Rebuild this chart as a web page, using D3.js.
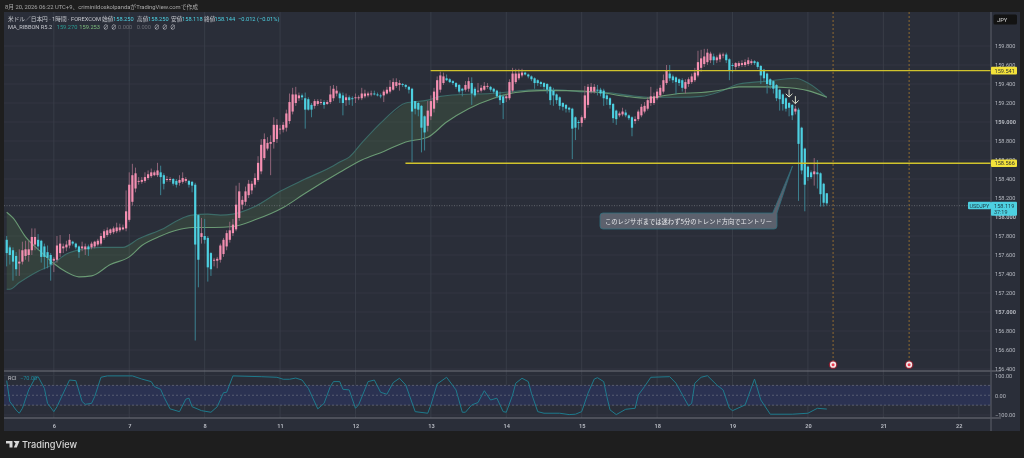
<!DOCTYPE HTML>
<html>
<head>
<meta charset="UTF-8">
<title>USDJPY 1h</title>
<script src="https://d3js.org/d3.v7.min.js"></script>
<style>
html,body{margin:0;padding:0;background:#1e1e1e;overflow:hidden}
svg{display:block;font-family:"Roboto","Noto Sans CJK JP",sans-serif;filter:blur(.3px)}
</style>
</head>
<body>
<svg id="svg" width="1024" height="458"></svg>
<script>
// hourly candles
var opens = [157.76,157.68,157.65,157.59,157.51,157.53,157.59,157.60,157.65,157.71,157.76,157.75,157.69,157.63,157.60,157.54,157.55,157.62,157.67,157.68,157.70,157.74,157.72,157.69,157.67,157.66,157.69,157.68,157.69,157.71,157.72,157.78,157.81,157.83,157.84,157.85,157.86,157.87,157.88,157.97,158.16,158.30,158.37,158.37,158.38,158.41,158.43,158.44,158.44,158.47,158.44,158.39,158.39,158.40,158.38,158.36,158.37,158.38,158.38,158.37,158.34,158.02,157.79,157.80,157.78,157.62,157.54,157.54,157.55,157.61,157.69,157.76,157.83,157.87,157.99,158.13,158.16,158.23,158.28,158.34,158.39,158.48,158.62,158.72,158.77,158.79,158.82,158.92,158.92,158.94,159.01,159.11,159.20,159.25,159.28,159.25,159.24,159.18,159.17,159.19,159.20,159.21,159.19,159.21,159.25,159.30,159.30,159.28,159.23,159.26,159.25,159.25,159.25,159.25,159.27,159.28,159.29,159.30,159.29,159.28,159.28,159.30,159.32,159.34,159.38,159.39,159.40,159.39,159.37,159.35,159.22,159.20,159.17,159.06,158.96,159.06,159.14,159.23,159.34,159.41,159.46,159.45,159.43,159.41,159.39,159.35,159.34,159.35,159.41,159.35,159.32,159.33,159.34,159.37,159.37,159.35,159.33,159.28,159.27,159.25,159.25,159.33,159.42,159.46,159.49,159.52,159.50,159.48,159.46,159.44,159.42,159.41,159.40,159.37,159.33,159.29,159.26,159.20,159.18,159.15,159.14,159.05,159.00,158.99,159.04,159.18,159.32,159.32,159.34,159.34,159.33,159.28,159.25,159.19,159.12,159.07,159.08,159.10,159.07,159.05,159.01,159.03,159.07,159.11,159.14,159.20,159.20,159.25,159.28,159.32,159.41,159.51,159.48,159.47,159.45,159.44,159.35,159.40,159.42,159.44,159.49,159.57,159.61,159.63,159.65,159.69,159.65,159.66,159.70,159.71,159.66,159.60,159.58,159.59,159.60,159.60,159.61,159.62,159.64,159.63,159.59,159.55,159.51,159.45,159.43,159.39,159.34,159.29,159.25,159.20,159.18,159.11,159.13,158.94,158.72,158.53,158.47,158.45,158.47,158.46,158.35,158.25];
var closes = [157.62,157.60,157.53,157.45,157.53,157.65,157.66,157.66,157.79,157.79,157.69,157.58,157.58,157.57,157.50,157.56,157.70,157.72,157.69,157.71,157.76,157.72,157.68,157.63,157.69,157.69,157.66,157.72,157.74,157.75,157.80,157.85,157.86,157.87,157.88,157.89,157.89,157.89,158.06,158.34,158.44,158.46,158.38,158.39,158.42,158.45,158.47,158.47,158.49,158.42,158.35,158.40,158.40,158.35,158.34,158.39,158.41,158.40,158.34,158.33,157.71,157.55,157.83,157.76,157.47,157.45,157.55,157.56,157.70,157.76,157.83,157.86,157.92,158.13,158.27,158.18,158.27,158.35,158.35,158.41,158.57,158.76,158.82,158.78,158.79,158.97,158.97,158.93,158.97,159.09,159.21,159.29,159.29,159.28,159.26,159.13,159.13,159.13,159.22,159.22,159.21,159.18,159.21,159.29,159.35,159.33,159.25,159.20,159.26,159.23,159.24,159.26,159.26,159.30,159.30,159.30,159.30,159.29,159.28,159.27,159.32,159.34,159.37,159.42,159.42,159.41,159.39,159.37,159.34,159.11,159.14,159.13,158.94,158.89,159.12,159.22,159.32,159.44,159.49,159.48,159.44,159.42,159.41,159.37,159.32,159.33,159.39,159.43,159.30,159.28,159.33,159.36,159.38,159.38,159.34,159.32,159.27,159.23,159.20,159.27,159.42,159.51,159.51,159.51,159.52,159.50,159.48,159.45,159.41,159.41,159.40,159.37,159.34,159.23,159.28,159.23,159.17,159.16,159.14,159.13,158.93,158.94,158.99,159.05,159.28,159.37,159.37,159.37,159.33,159.30,159.25,159.24,159.18,159.04,159.03,159.09,159.11,159.07,159.04,158.94,159.03,159.11,159.16,159.17,159.23,159.27,159.27,159.32,159.36,159.44,159.54,159.46,159.44,159.42,159.41,159.36,159.42,159.45,159.48,159.52,159.63,159.67,159.69,159.73,159.72,159.65,159.68,159.71,159.71,159.65,159.54,159.59,159.62,159.62,159.62,159.63,159.65,159.64,159.62,159.58,159.49,159.46,159.40,159.39,159.35,159.25,159.24,159.19,159.14,159.15,159.07,159.14,158.77,158.49,158.34,158.42,158.42,158.48,158.45,158.24,158.15,158.144];
var highs = [157.80,157.70,157.68,157.63,157.66,157.74,157.75,157.75,157.88,157.88,157.82,157.76,157.72,157.70,157.62,157.58,157.80,157.81,157.72,157.75,157.82,157.75,157.73,157.70,157.74,157.72,157.71,157.74,157.75,157.77,157.83,157.87,157.89,157.88,157.90,157.94,157.93,157.92,158.28,158.47,158.56,158.52,158.42,158.42,158.47,158.49,158.51,158.49,158.57,158.54,158.46,158.43,158.42,158.41,158.40,158.44,158.47,158.42,158.39,158.38,158.36,158.03,157.99,157.98,157.80,157.63,157.57,157.58,157.72,157.78,157.86,157.95,157.98,158.33,158.36,158.22,158.32,158.39,158.38,158.46,158.64,158.82,158.88,158.84,158.86,159.05,159.03,158.97,159.00,159.13,159.30,159.36,159.37,159.31,159.30,159.31,159.26,159.20,159.24,159.24,159.24,159.23,159.23,159.38,159.39,159.38,159.32,159.31,159.30,159.28,159.27,159.30,159.28,159.36,159.34,159.32,159.33,159.33,159.31,159.30,159.34,159.37,159.44,159.46,159.46,159.44,159.41,159.40,159.38,159.36,159.22,159.21,159.18,159.07,159.22,159.28,159.36,159.48,159.53,159.52,159.50,159.46,159.44,159.42,159.40,159.36,159.43,159.47,159.47,159.37,159.41,159.39,159.42,159.41,159.38,159.36,159.34,159.32,159.29,159.29,159.45,159.57,159.56,159.56,159.56,159.53,159.51,159.49,159.47,159.45,159.43,159.42,159.41,159.38,159.36,159.30,159.27,159.21,159.19,159.16,159.15,159.06,159.02,159.07,159.38,159.40,159.41,159.40,159.39,159.36,159.35,159.30,159.26,159.20,159.13,159.11,159.15,159.13,159.08,159.06,159.06,159.13,159.19,159.21,159.26,159.37,159.31,159.35,159.39,159.50,159.60,159.60,159.50,159.48,159.46,159.46,159.45,159.47,159.51,159.57,159.75,159.76,159.77,159.77,159.74,159.72,159.70,159.73,159.73,159.73,159.67,159.62,159.63,159.64,159.65,159.66,159.68,159.66,159.65,159.64,159.60,159.56,159.52,159.46,159.44,159.40,159.35,159.30,159.26,159.21,159.19,159.17,159.15,158.95,158.73,158.54,158.49,158.62,158.60,158.47,158.36,158.25];
var lows = [157.48,157.50,157.33,157.38,157.38,157.50,157.55,157.53,157.60,157.65,157.65,157.52,157.45,157.46,157.33,157.42,157.52,157.58,157.62,157.64,157.67,157.70,157.66,157.57,157.64,157.60,157.59,157.66,157.67,157.69,157.70,157.76,157.79,157.81,157.82,157.83,157.84,157.86,157.85,157.95,158.12,158.26,158.34,158.35,158.36,158.39,158.41,158.43,158.42,158.23,158.29,158.37,158.37,158.33,158.31,158.33,158.35,158.36,158.31,158.26,156.70,157.26,157.72,157.72,157.32,157.38,157.48,157.46,157.52,157.58,157.65,157.73,157.80,157.85,157.96,158.08,158.12,158.20,158.24,158.31,158.37,158.45,158.60,158.70,158.44,158.72,158.78,158.87,158.89,158.90,158.98,159.08,159.17,159.22,159.23,158.93,159.12,159.05,159.14,159.17,159.18,159.14,159.18,159.19,159.22,159.27,159.20,159.07,159.17,159.18,159.17,159.20,159.23,159.23,159.25,159.26,159.27,159.28,159.27,159.25,159.21,159.29,159.30,159.33,159.36,159.33,159.37,159.35,159.30,158.58,159.08,159.06,158.68,158.70,158.90,159.02,159.10,159.20,159.31,159.39,159.43,159.41,159.39,159.35,159.30,159.27,159.32,159.32,159.18,159.26,159.30,159.31,159.33,159.35,159.32,159.30,159.25,159.18,159.03,159.21,159.23,159.31,159.40,159.44,159.47,159.49,159.46,159.43,159.35,159.38,159.37,159.34,159.30,159.18,159.17,159.19,159.13,159.12,159.10,159.10,158.61,158.81,158.92,158.95,159.02,159.15,159.30,159.30,159.28,159.27,159.17,159.18,159.14,158.99,158.97,159.05,159.06,159.05,159.02,158.85,158.98,159.01,159.05,159.09,159.12,159.17,159.18,159.23,159.26,159.30,159.39,159.43,159.41,159.29,159.38,159.32,159.30,159.37,159.40,159.42,159.47,159.53,159.58,159.60,159.62,159.60,159.62,159.63,159.67,159.62,159.44,159.52,159.55,159.57,159.58,159.58,159.59,159.60,159.60,159.56,159.40,159.42,159.30,159.35,159.30,159.22,159.12,159.12,159.11,159.06,159.02,159.08,158.17,158.45,158.06,158.38,158.40,158.33,158.30,158.11,158.11,158.118];

// moving average ribbon, read at these bars
var fastBars = [0,1,4,10,14,19,24,30,37,42,50,56,59,64,68,72,79,87,95,104,106,109,113,120,127,134,138,145,154,161,168,175,182,191,198,205,214,221,227,233,242,251,255,261];
var fastValues = [157.24,157.24,157.31,157.43,157.49,157.61,157.66,157.68,157.68,157.77,157.88,157.99,158.02,158.03,158.02,158.03,158.11,158.27,158.40,158.54,158.58,158.63,158.78,159.02,159.20,159.23,159.27,159.29,159.30,159.32,159.34,159.34,159.32,159.31,159.28,159.26,159.26,159.27,159.32,159.40,159.43,159.46,159.41,159.26];
var slowBars = [0,2,6,11,15,19,23,27,33,39,43,49,54,59,66,72,79,88,95,106,113,120,127,134,140,147,155,162,170,178,189,197,204,208,214,221,228,233,242,249,255,261];
var slowValues = [158.05,157.99,157.79,157.63,157.51,157.42,157.37,157.38,157.50,157.58,157.70,157.80,157.86,157.89,157.89,157.90,157.97,158.10,158.25,158.47,158.60,158.69,158.79,158.84,159.00,159.14,159.25,159.31,159.33,159.33,159.31,159.27,159.25,159.27,159.30,159.31,159.34,159.37,159.37,159.36,159.33,159.26];

// RCI sub pane
var rciBars = [0,1,3,4,5,7,9,10,12,13,15,16,19,20,22,24,25,27,28,30,32,40,43,46,47,49,50,52,55,57,58,59,62,65,67,69,70,72,81,86,88,90,92,94,96,99,101,103,104,106,107,109,111,112,115,117,119,121,123,125,127,130,134,135,137,140,143,145,146,148,150,152,154,156,158,159,161,162,164,166,167,169,171,176,179,181,183,185,187,188,190,191,192,194,197,200,201,203,205,211,213,217,218,219,221,223,226,228,230,231,235,238,240,243,250,255,258,261];
var rciValues = [74,-32,-75,-91,-66,27,86,94,35,-41,-83,-58,44,77,74,-32,-46,-41,-7,91,98,98,82,69,44,30,-7,-69,-83,-20,-15,-58,-78,-86,-58,13,15,98,94,91,81,81,87,77,35,-69,-41,44,69,69,30,27,-66,-49,69,77,15,5,64,86,52,-83,-91,-49,57,91,27,-86,-86,-49,-37,23,-24,-15,-83,-86,1,61,86,69,10,-83,-91,-91,-98,-96,-83,10,82,89,69,-7,-74,-98,-71,-66,1,44,91,94,61,-54,-41,61,91,99,52,27,-66,-78,-49,82,-24,-96,-96,-91,-66,-70];

var priceTicks = [159.8,159.6,159.4,159.2,159,158.8,158.6,158.4,158.2,158,157.8,157.6,157.4,157.2,157,156.8,156.6,156.4];
var rciTicks = [100,0,-100];
var dayBars = [15,39,63,87,111,135,159,183,207,231,255,279,303];
var dayLabels = ["6","7","8","11","12","13","14","15","18","19","20","21","22"];

var upColor = "#f48fb1", downColor = "#4dd0e1";
var gridColor = "#3a3e49", borderColor = "#565963", axisText = "#b4b7bf";

var svg = d3.select("svg");

var panelL = 4, panelR = 1020, panelT = 12, panelB = 431, axisX = 991;
var paneBottom = 371, rciBottom = 418;

var x = d3.scaleLinear().domain([0, 261]).range([6.7, 826.8]);
var y = d3.scaleLinear().domain([156.4, 159.8]).range([369, 46]);
var yRci = d3.scaleLinear().domain([-100, 100]).range([415, 375.5]);

svg.append("rect").attr("x", panelL).attr("y", panelT)
	.attr("width", panelR - panelL).attr("height", panelB - panelT)
	.style("fill", "#2a2e39");

svg.append("text").attr("x", 5).attr("y", 8.5)
	.style("font-size", "5.8px").style("fill", "#a9a9a9")
	.text("8月 20, 2026 06:22 UTC+9、criminildoskolpandaがTradingView.comで作成");

var defs = svg.append("defs");
defs.append("clipPath").attr("id", "main").append("rect")
	.attr("x", panelL).attr("y", panelT).attr("width", axisX - panelL).attr("height", paneBottom - panelT);

// grid
var grid = svg.append("g");
grid.selectAll(".h").data(priceTicks).enter().append("line")
	.attr("x1", panelL).attr("x2", axisX)
	.attr("y1", function (d) { return y(d); }).attr("y2", function (d) { return y(d); })
	.style("stroke", "#353944").style("stroke-width", 0.8);
grid.selectAll(".v").data(dayBars).enter().append("line")
	.attr("x1", function (d) { return x(d); }).attr("x2", function (d) { return x(d); })
	.attr("y1", panelT).attr("y2", rciBottom)
	.style("stroke", gridColor).style("stroke-width", 0.9);
grid.selectAll(".r").data([100, 50, -50, -100]).enter().append("line")
	.attr("x1", panelL).attr("x2", axisX)
	.attr("y1", function (d) { return yRci(d); }).attr("y2", function (d) { return yRci(d); })
	.style("stroke", "#353944").style("stroke-width", 0.8);

// RCI band
svg.append("rect").attr("x", panelL).attr("width", axisX - panelL)
	.attr("y", yRci(50)).attr("height", yRci(-50) - yRci(50))
	.style("fill", "#2b3252");
svg.selectAll(".rl").data([50, 0, -50]).enter().append("line")
	.attr("x1", panelL).attr("x2", axisX)
	.attr("y1", function (d) { return yRci(d); }).attr("y2", function (d) { return yRci(d); })
	.style("stroke", "#6a6e7e").style("stroke-width", 0.7).style("stroke-dasharray", "2,2");

var chart = svg.append("g").attr("clip-path", "url(#main)");

// ribbon
var fastPts = fastBars.map(function (b, i) { return [x(b), y(fastValues[i])]; });
var slowPts = slowBars.map(function (b, i) { return [x(b), y(slowValues[i])]; });
var line = d3.line().curve(d3.curveMonotoneX);
var ribbon = fastPts.concat(slowPts.slice().reverse());
chart.append("path").attr("d", d3.line()(ribbon))
	.style("fill", "#5f8f50").style("fill-opacity", 0.2);
chart.append("path").attr("d", line(fastPts))
	.style("fill", "none").style("stroke", "#3c6b68").style("stroke-width", 1.1);
chart.append("path").attr("d", line(slowPts))
	.style("fill", "none").style("stroke", "#6a9a74").style("stroke-width", 1.1);

// current price line
chart.append("line").attr("x1", panelL).attr("x2", axisX)
	.attr("y1", y(158.119)).attr("y2", y(158.119))
	.style("stroke", "#777a82").style("stroke-width", 0.7).style("stroke-dasharray", "1,1.5");

// candles
var candles = chart.selectAll(".c").data(opens).enter().append("g");
candles.append("line")
	.attr("x1", function (d, i) { return x(i); }).attr("x2", function (d, i) { return x(i); })
	.attr("y1", function (d, i) { return y(highs[i]); }).attr("y2", function (d, i) { return y(lows[i]); })
	.style("stroke", function (d, i) { return closes[i] >= d ? "#8f6478" : "#3c8290"; })
	.style("stroke-width", 1);
candles.append("rect")
	.attr("x", function (d, i) { return x(i) - 1.1; })
	.attr("width", 2.2)
	.attr("y", function (d, i) { return y(Math.max(d, closes[i])); })
	.attr("height", function (d, i) { return Math.max(0.8, Math.abs(y(d) - y(closes[i]))); })
	.style("fill", function (d, i) { return closes[i] >= d ? upColor : downColor; });

// support and resistance
var levelPrices = [159.541, 158.566];
var levelStart = [135, 127];
svg.selectAll(".lv").data(levelPrices).enter().append("line")
	.attr("x1", function (d, i) { return x(levelStart[i]) - 0.3; }).attr("x2", axisX)
	.attr("y1", function (d) { return y(d); }).attr("y2", function (d) { return y(d); })
	.style("stroke", "#d0c32d").style("stroke-width", 1.3);

// session lines and events
var eventBars = [263, 287.2];
svg.selectAll(".ev").data(eventBars).enter().append("line")
	.attr("x1", function (d) { return x(d); }).attr("x2", function (d) { return x(d); })
	.attr("y1", panelT).attr("y2", 361)
	.style("stroke", "#8f6a30").style("stroke-width", 1).style("stroke-dasharray", "2,2");
var marks = svg.selectAll(".m").data(eventBars).enter().append("g")
	.attr("transform", function (d) { return "translate(" + x(d) + ",364.7)"; });
marks.append("circle").attr("r", 4.3).style("fill", "#8e2233");
marks.append("circle").attr("r", 3.1).style("fill", "#f3e9ea");
marks.append("circle").attr("r", 1.5).style("fill", "#ee3b4f");

// arrows
var arrowBars = [249, 251];
var arrowPrices = [159.30, 159.23];
var arrows = svg.selectAll(".a").data(arrowBars).enter().append("g")
	.attr("transform", function (d, i) { return "translate(" + x(d) + "," + y(arrowPrices[i]) + ")"; });
arrows.append("path").attr("d", "M0,-4V3.5M-3.3,0.3L0,3.5L3.3,0.3")
	.style("fill", "none").style("stroke", "#dfe3d0").style("stroke-width", 1);

// callout
svg.append("path")
	.attr("d", "M603,213H772.7L792.5,166L777,213Q777,213 777,216V226Q777,229 774,229H603Q600,229 600,226V216Q600,213 603,213Z")
	.style("fill", "#5c616d").style("stroke", "#2f6e7e").style("stroke-width", 0.8);
svg.append("text").attr("x", 688.5).attr("y", 223.5).attr("text-anchor", "middle")
	.style("font-size", "6.3px").style("fill", "#e6e7ea").style("font-family", "'Noto Sans CJK JP'")
	.text("このレジサポまでは迷わず5分のトレンド方向でエントリー");

// RCI line
svg.append("path").attr("d", d3.line().x(function (d) { return x(d); })
	.y(function (d, i) { return yRci(rciValues[i]); })(rciBars))
	.style("fill", "none").style("stroke", "#1e7a8c").style("stroke-width", 1);

// pane borders
svg.append("line").attr("x1", panelL).attr("x2", axisX + 10).attr("y1", paneBottom).attr("y2", paneBottom)
	.style("stroke", "#70737c").style("stroke-width", 1);
svg.append("line").attr("x1", panelL).attr("x2", axisX + 10).attr("y1", rciBottom).attr("y2", rciBottom)
	.style("stroke", "#70737c").style("stroke-width", 1);
svg.append("line").attr("x1", axisX).attr("x2", axisX).attr("y1", panelT).attr("y2", panelB)
	.style("stroke", borderColor).style("stroke-width", 1.2);

// axes
function styleAxis(g) {
	g.select(".domain").remove();
	g.selectAll("line").remove();
	g.selectAll("text").style("fill", axisText).style("font-size", "5.6px").style("font-family", "Roboto");
}
svg.append("g").attr("transform", "translate(" + (axisX + 1) + ",0)")
	.call(d3.axisRight(y).tickValues(priceTicks).tickSize(0).tickFormat(d3.format(".3f")))
	.call(styleAxis)
	.selectAll("text").style("font-weight", function (d) { return d % 1 == 0 ? "bold" : "normal"; });
svg.append("g").attr("transform", "translate(" + (axisX + 1) + ",0)")
	.call(d3.axisRight(yRci).tickValues(rciTicks).tickSize(0).tickFormat(d3.format(".2f")))
	.call(styleAxis);
svg.append("g").attr("transform", "translate(0,421)")
	.call(d3.axisBottom(x).tickValues(dayBars).tickSize(0).tickFormat(function (d, i) { return dayLabels[i]; }))
	.call(styleAxis)
	.selectAll("text").style("font-weight", "bold");

// price tags
var tagTexts = ["159.541", "158.566"];
var tags = svg.selectAll(".t").data(levelPrices).enter().append("g")
	.attr("transform", function (d) { return "translate(991," + y(d) + ")"; });
tags.append("rect").attr("x", 0).attr("y", -3.8).attr("width", 26).attr("height", 7.6).attr("rx", 1)
	.style("fill", "#f3e23a");
tags.append("text").attr("x", 3.5).attr("y", 2.1)
	.style("font-size", "5.6px").style("fill", "#333")
	.text(function (d, i) { return tagTexts[i]; });

svg.append("rect").attr("x", 968).attr("y", 201.7).attr("width", 23).attr("height", 7.5).attr("rx", 1)
	.style("fill", "#4dd0e1");
svg.append("rect").attr("x", 991).attr("y", 201.7).attr("width", 26).attr("height", 14).attr("rx", 1)
	.style("fill", "#4dd0e1");
svg.append("text").attr("x", 969.5).attr("y", 207.6).style("font-size", "5.4px").style("fill", "#1d3a44").text("USDJPY");
svg.append("text").attr("x", 994).attr("y", 207.6).style("font-size", "5.6px").style("fill", "#1d3a44").text("158.119");
svg.append("text").attr("x", 994).attr("y", 214).style("font-size", "5.4px").style("fill", "#1d3a44").text("37:19");

// currency box
svg.append("rect").attr("x", 993.5).attr("y", 14.5).attr("width", 23.5).attr("height", 10).attr("rx", 1.5)
	.style("fill", "#131313");
svg.append("text").attr("x", 997).attr("y", 21.6).style("font-size", "5.8px").style("fill", "#d6d6d6").text("JPY");

// legend
var legend1 = [["米ドル／日本円 · 1時間 · FOREXCOM", "#c5c7cd", 8], ["始値", "#c5c7cd", 102], ["158.250", downColor, 113], ["高値", "#c5c7cd", 137], ["158.250", downColor, 148], ["安値", "#c5c7cd", 171], ["158.118", downColor, 182], ["終値", "#c5c7cd", 204], ["158.144", downColor, 214.5], ["−0.012 (−0.01%)", downColor, 238]];
var legend2 = [["MA_RIBBON R5.2", "#c5c7cd", 8], ["159.270", "#2a9d94", 56.7], ["159.253", "#7fbf7f", 79.3], ["∅", "#c5c7cd", 103], ["∅", "#c5c7cd", 111], ["0.000", "#6b6e76", 118], ["0.000", "#6b6e76", 136.7], ["∅", "#c5c7cd", 154], ["∅", "#c5c7cd", 162], ["∅", "#c5c7cd", 170]];
[[legend1, 21], [legend2, 29]].forEach(function (row) {
	svg.selectAll(null).data(row[0]).enter().append("text")
		.attr("x", function (d) { return d[2]; }).attr("y", row[1])
		.style("font-size", "5.7px").style("fill", function (d) { return d[1]; })
		.text(function (d) { return d[0]; });
});
svg.append("text").attr("x", 8).attr("y", 380).style("font-size", "5.6px").style("fill", "#c5c7cd").text("RCI");
svg.append("text").attr("x", 20).attr("y", 380).style("font-size", "5.6px").style("fill", "#1e8a9c").text("−70.00");

// logo
svg.append("path").attr("d", "M6,441H12.5V447.5H9.5V443.6H6ZM13.5,441H19.5L16.8,447.5H13.8L15.6,443.4Z")
	.style("fill", "#d8d8d8");
svg.append("text").attr("x", 22).attr("y", 447.5)
	.style("font-size", "9.2px").style("font-weight", "500").style("fill", "#d8d8d8").style("font-family", "Inter")
	.text("TradingView");
</script>
</body>
</html>
